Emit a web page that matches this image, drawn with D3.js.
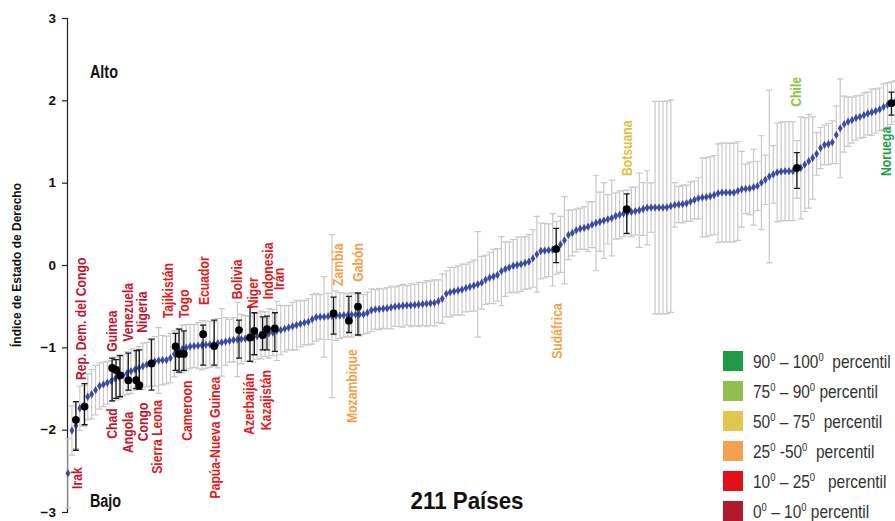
<!DOCTYPE html>
<html><head><meta charset="utf-8">
<script src="https://cdn.jsdelivr.net/npm/d3@7"></script>
<style>body{margin:0;background:#fff} svg{display:block}</style>
</head><body><svg id="c" width="895" height="521"></svg>
<script>
// Rule-of-law estimate for 211 countries, sorted
const values = [
-2.53,-2.01,-1.95,-1.74,-1.71,-1.60,-1.57,-1.52,-1.47,-1.45,
-1.43,-1.41,-1.38,-1.36,-1.34,-1.315,-1.29,-1.27,-1.25,-1.23,
-1.21,-1.19,-1.17,-1.16,-1.155,-1.155,-1.13,-1.08,-1.04,-1.02,
-1.005,-0.99,-0.985,-0.98,-0.975,-0.97,-0.965,-0.96,-0.95,-0.94,
-0.93,-0.92,-0.91,-0.905,-0.90,-0.895,-0.89,-0.88,-0.865,-0.85,
-0.84,-0.83,-0.82,-0.80,-0.79,-0.775,-0.76,-0.745,-0.73,-0.715,
-0.70,-0.69,-0.66,-0.635,-0.63,-0.63,-0.625,-0.62,-0.615,-0.615,
-0.61,-0.61,-0.605,-0.60,-0.60,-0.60,-0.58,-0.55,-0.54,-0.535,
-0.53,-0.525,-0.515,-0.505,-0.50,-0.495,-0.49,-0.49,-0.485,-0.48,
-0.475,-0.47,-0.465,-0.46,-0.44,-0.41,-0.35,-0.33,-0.32,-0.31,
-0.30,-0.28,-0.265,-0.25,-0.235,-0.215,-0.18,-0.155,-0.14,-0.12,
-0.075,-0.05,-0.03,-0.01,0.00,0.01,0.025,0.04,0.08,0.13,
0.17,0.175,0.18,0.185,0.21,0.25,0.30,0.365,0.39,0.42,
0.44,0.45,0.465,0.49,0.51,0.525,0.54,0.555,0.57,0.595,
0.61,0.625,0.64,0.645,0.655,0.665,0.68,0.695,0.697,0.697,
0.697,0.697,0.70,0.715,0.73,0.735,0.74,0.75,0.77,0.79,
0.81,0.82,0.825,0.835,0.85,0.87,0.88,0.88,0.88,0.88,
0.90,0.92,0.925,0.93,0.945,0.96,1.00,1.035,1.075,1.10,
1.125,1.135,1.14,1.14,1.14,1.16,1.18,1.22,1.26,1.30,
1.35,1.42,1.46,1.47,1.49,1.58,1.66,1.71,1.74,1.76,
1.785,1.80,1.82,1.84,1.855,1.87,1.89,1.92,1.945,1.965,
1.99];
// half length of each grey confidence bar
const errHalf = [
0.42,0.30,0.28,0.27,0.25,0.28,0.30,0.30,0.28,0.27,
0.26,0.25,0.26,0.27,0.25,0.26,0.27,0.25,0.26,0.28,
0.27,0.28,0.30,0.40,0.30,0.29,0.30,0.28,0.27,0.29,
0.28,0.27,0.26,0.28,0.30,0.29,0.28,0.27,0.30,0.41,
0.29,0.26,0.27,0.45,0.30,0.28,0.27,0.30,0.28,0.29,
0.27,0.30,0.28,0.36,0.30,0.28,0.27,0.29,0.30,0.28,
0.27,0.28,0.30,0.29,0.27,0.49,0.28,0.99,0.30,0.28,
0.27,0.26,0.27,0.25,0.26,0.24,0.25,0.26,0.24,0.25,
0.24,0.25,0.26,0.24,0.25,0.26,0.24,0.26,0.25,0.27,
0.26,0.28,0.27,0.28,0.26,0.30,0.28,0.30,0.29,0.30,
0.31,0.29,0.30,0.31,0.64,0.32,0.30,0.31,0.33,0.32,
0.42,0.33,0.31,0.32,0.34,0.33,0.32,0.33,0.35,0.46,
0.34,0.33,0.32,0.44,0.32,0.34,0.53,0.30,0.28,0.26,
0.25,0.26,0.30,0.28,0.58,0.36,0.46,0.30,0.46,0.28,
0.29,0.28,0.27,0.30,0.29,0.45,0.32,0.45,0.30,1.29,
1.29,1.29,1.29,1.29,0.27,0.22,0.23,0.22,0.24,0.23,
0.25,0.48,0.48,0.48,0.48,0.60,0.60,0.60,0.60,0.60,
0.60,0.46,0.30,0.32,0.46,0.30,0.57,0.30,1.05,0.35,
0.60,0.60,0.60,0.60,0.60,0.35,0.62,0.57,0.57,0.50,
0.26,0.25,0.24,0.25,0.26,0.35,0.60,0.34,0.30,0.28,
0.27,0.26,0.27,0.26,0.28,0.27,0.26,0.28,0.27,0.26,
0.25];
// highlighted countries: rank position, estimate, interval
const hlRank  = [2,4.2,11.2,12.2,13.2,15.3,17.3,18.1,21.2,27.3,28.2,29.4,34.3,37.1,43.4,46.2,47.3,49.4,50.5,52.5,67.4,71.3,73.6,123.9,141.8,185,209];
const hlValue = [-1.88,-1.72,-1.25,-1.275,-1.34,-1.40,-1.40,-1.46,-1.195,-0.99,-1.08,-1.08,-0.84,-0.985,-0.79,-0.88,-0.80,-0.85,-0.78,-0.77,-0.587,-0.676,-0.506,0.194,0.677,1.18,1.965];
const hlLow   = [-2.25,-1.94,-1.65,-1.62,-1.60,-1.52,-1.50,-1.51,-1.52,-1.28,-1.30,-1.28,-1.215,-1.215,-1.13,-1.17,-1.09,-1.03,-1.03,-1.05,-0.84,-0.82,-0.85,0.028,0.385,0.93,1.82];
const hlHigh  = [-1.66,-1.44,-1.13,-1.15,-1.10,-1.07,-1.04,-1.03,-0.90,-0.83,-0.78,-0.80,-0.73,-0.67,-0.67,-0.51,-0.58,-0.63,-0.62,-0.58,-0.39,-0.38,-0.34,0.446,0.863,1.365,2.10];
// country labels: name, rank, value where the label ends, side, percentile group
const labelText  = ["Rep. Dem. del Congo","Irak","Guinea","Venezuela","Nigeria","Tajikistán","Togo","Ecuador","Bolivia","Niger","Indonesia","Irán","Chad","Angola","Congo","Sierra Leona","Cameroon","Papúa-Nueva Guinea","Azerbaiján","Kazajistán","Zambia","Gabón","Mozambique","Sudáfrica","Botsuana","Chile","Noruega"];
const labelRank  = [3.2,2.2,11.2,15.2,18.7,25.4,29.4,34.5,42.8,47.0,50.8,53.6,11.2,15.2,19.0,22.7,30.2,37.3,45.9,50.3,68.5,73.6,72.0,124.2,141.9,184.8,207.5];
const labelValue = [-1.397,-2.457,-1.053,-0.932,-0.822,-0.647,-0.647,-0.486,-0.417,-0.526,-0.417,-0.304,-1.741,-1.782,-1.672,-1.64,-1.405,-1.357,-1.315,-1.275,-0.255,-0.203,-1.024,-0.465,1.081,1.923,1.68];
const labelSide  = ["up","down","up","up","up","up","up","up","up","up","up","up","down","down","down","down","down","down","down","down","up","up","down","down","up","up","down"];
const labelGroup = [5,5,5,5,5,4,4,4,4,4,4,4,5,5,5,4,4,4,4,4,3,3,3,3,2,1,0];
const yTicks = [-3,-2,-1,0,1,2,3];
const legendFrom = ["90","75","50","25","10","0"];
const legendTo   = ["100","90","75","50","25","10"];
const legendSep  = [" – "," – "," – "," -"," – "," – "];
const legendGap  = ["  "," ","  ","  ","   "," "];
const groupColor = ["#1f9a45","#8fc04f","#e3c64f","#f2a14e","#e3101c","#b01a2d"];
const labelColor = ["#24a048","#8cc63f","#e0c042","#f4a24a","#e11b22","#c0172f"];

const F = "'Liberation Sans',Arial,Helvetica,sans-serif";
const svg = d3.select("#c");
const x = d3.scaleLinear().domain([0, 210]).range([68, 895.4]);
const y = d3.scaleLinear().domain([-3, 3]).range([512, 18]);

// axis
const ax = svg.append("g").attr("transform","translate(67,0)")
  .call(d3.axisLeft(y).tickValues(yTicks).tickSize(5).tickPadding(6).tickFormat(d3.format("d")));
ax.select(".domain").attr("stroke","#222").attr("stroke-width",1.2);
ax.selectAll(".tick line").attr("stroke","#222").attr("stroke-width",1.2);
ax.selectAll(".tick text").attr("font-family",F).attr("font-weight","bold").attr("font-size",13.5).attr("fill","#111");

svg.append("text").attr("transform","translate(17,265) rotate(-90) scale(0.96,1)")
  .attr("text-anchor","middle").attr("dy","0.35em")
  .attr("font-family",F).attr("font-weight","bold").attr("font-size",12.5).attr("fill","#111")
  .text("Índice de Estado de Derecho");

// grey bars
const cap = 3.2;
const gb = svg.append("g").attr("stroke","#c9c9c9").attr("stroke-width",1.2).attr("fill","none");
values.forEach((v,i)=>{
  const xi = x(i), y1 = y(v+errHalf[i]), y2 = y(v-errHalf[i]);
  gb.append("path").attr("d",`M${xi},${y1}V${y2}M${xi-cap},${y1}H${xi+cap}M${xi-cap},${y2}H${xi+cap}`);
});
// blue points
svg.append("g").selectAll("path").data(values).join("path")
  .attr("transform",(d,i)=>`translate(${x(i)},${y(d)})`)
  .attr("d", d3.symbol().type(d3.symbolDiamond).size(20))
  .attr("fill","#3b49a0");

// highlighted
const hb = svg.append("g").attr("stroke","#1a1a1a").attr("stroke-width",1.3).attr("fill","none");
hlRank.forEach((r,i)=>{
  const xi = x(r), y1 = y(hlHigh[i]), y2 = y(hlLow[i]);
  hb.append("path").attr("d",`M${xi},${y1}V${y2}M${xi-3},${y1}H${xi+3}M${xi-3},${y2}H${xi+3}`);
});
svg.append("g").selectAll("circle").data(hlRank).join("circle")
  .attr("cx",d=>x(d)).attr("cy",(d,i)=>y(hlValue[i])).attr("r",3.9).attr("fill","#000");

// labels
svg.append("g").selectAll("text").data(labelText).join("text")
  .attr("transform",(d,i)=>`translate(${x(labelRank[i])},${y(labelValue[i])}) rotate(-90) scale(0.87,1)`)
  .attr("dy","0.36em")
  .attr("text-anchor",(d,i)=>labelSide[i]==="up"?"start":"end")
  .attr("font-family",F).attr("font-weight","bold").attr("font-size",14)
  .attr("fill",(d,i)=>labelColor[labelGroup[i]])
  .text(d=>d);

// annotations
svg.append("text").attr("transform","translate(90,78) scale(0.82,1)").attr("font-family",F).attr("font-weight","bold")
  .attr("font-size",17.5).attr("fill","#111").text("Alto");
svg.append("text").attr("transform","translate(90,507) scale(0.82,1)").attr("font-family",F).attr("font-weight","bold")
  .attr("font-size",17.5).attr("fill","#111").text("Bajo");
svg.append("text").attr("transform","translate(467,509) scale(0.95,1)").attr("text-anchor","middle").attr("font-family",F)
  .attr("font-weight","bold").attr("font-size",23.5).attr("fill","#111").text("211 Países");

// legend
const lg = svg.append("g");
legendFrom.forEach((f,i)=>{
  const yy = 351 + i*30;
  lg.append("rect").attr("x",723).attr("y",yy).attr("width",20).attr("height",20).attr("fill",groupColor[i]);
  const t = lg.append("text").attr("transform",`translate(753,${yy+16.5}) scale(0.86,1)`).attr("font-family",F)
    .attr("font-size",18).attr("fill","#333").attr("xml:space","preserve");
  t.append("tspan").text(f);
  t.append("tspan").attr("dy",-7).attr("font-size",11).text("0");
  t.append("tspan").attr("dy",7).text(legendSep[i]+legendTo[i]);
  t.append("tspan").attr("dy",-7).attr("font-size",11).text("0");
  t.append("tspan").attr("dy",7).text(legendGap[i]+"percentil");
});
</script></body></html>
